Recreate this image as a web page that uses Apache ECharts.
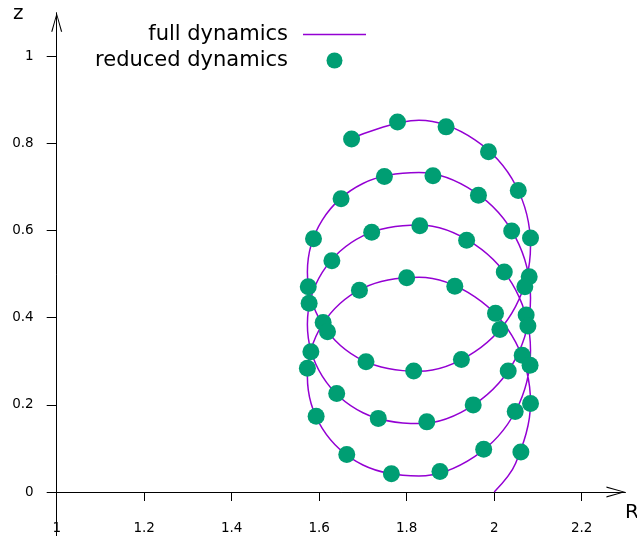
<!DOCTYPE html>
<html>
<head>
<meta charset="utf-8">
<script src="https://cdn.jsdelivr.net/npm/echarts@6/dist/echarts.min.js"></script>
<style>
html,body{margin:0;padding:0;background:#fff;}
#chart{width:637px;height:538px;}
</style>
</head>
<body>
<div id="chart"></div>
<script>
// Full dynamics trajectory (R, z)
const fullR = [1.674, 1.828, 1.956, 2.049, 2.083, 2.049, 1.956, 1.828, 1.700, 1.607, 1.573, 1.607, 1.700,
  1.828, 1.956, 2.049, 2.083, 2.049, 1.956, 1.828, 1.700, 1.607, 1.573, 1.607, 1.700,
  1.828, 1.956, 2.049, 2.083, 2.049, 1.956, 1.828, 1.700, 1.607, 1.573, 1.607, 1.700,
  1.828, 1.956, 2.049, 2.083, 2.049, 2.000];
const fullZ = [0.812, 0.853, 0.808, 0.704, 0.565, 0.426, 0.322, 0.277, 0.302, 0.386, 0.505, 0.624, 0.708,
  0.733, 0.688, 0.584, 0.445, 0.306, 0.202, 0.157, 0.182, 0.266, 0.385, 0.504, 0.588,
  0.613, 0.568, 0.464, 0.325, 0.186, 0.082, 0.037, 0.062, 0.146, 0.265, 0.384, 0.468,
  0.493, 0.448, 0.344, 0.205, 0.066, 0.000];

// Reduced dynamics points (R, z)
const redR = [1.674, 1.779, 1.890, 1.987, 2.055, 2.083, 2.040, 1.964, 1.860, 1.749, 1.650, 1.587, 1.720,
  1.830, 1.937, 2.023, 2.080, 2.070, 1.629, 1.575, 1.577, 1.692, 1.800, 1.910, 1.609,
  1.619, 1.581, 1.573, 2.003, 2.013, 2.073, 2.077, 2.064, 2.082, 2.032, 1.707, 1.816,
  1.925, 1.640, 1.735, 1.846, 1.952, 2.048, 2.083, 1.593, 1.663, 1.765, 1.876, 1.976, 2.061];
const redZ = [0.810, 0.849, 0.838, 0.781, 0.692, 0.583, 0.599, 0.681, 0.726, 0.724, 0.673, 0.581, 0.596,
  0.611, 0.578, 0.505, 0.494, 0.471, 0.531, 0.471, 0.433, 0.463, 0.492, 0.472, 0.389,
  0.368, 0.322, 0.284, 0.410, 0.373, 0.406, 0.381, 0.314, 0.291, 0.278, 0.299, 0.278,
  0.304, 0.226, 0.169, 0.161, 0.200, 0.185, 0.203, 0.174, 0.086, 0.042, 0.047, 0.098, 0.092];

const xTicks = [1, 1.2, 1.4, 1.6, 1.8, 2, 2.2];
const yTicks = [0, 0.2, 0.4, 0.6, 0.8, 1];
const seriesNames = ['full dynamics', 'reduced dynamics'];

const FONT = 'DejaVu Sans';
const chevron = 'path://M5.5,0 L11,19 L9.8,19 L5.5,3 L1.2,19 L0,19 Z';

const chart = echarts.init(document.getElementById('chart'), null, {renderer: 'canvas'});
chart.setOption({
  animation: false,
  backgroundColor: '#fff',
  grid: {left: 56.7, right: 11.55, top: 12.7, bottom: 2.4, outerBoundsMode: 'none', containLabel: false},
  xAxis: {
    type: 'value', min: 1, max: 2.3, position: 'bottom', offset: -43.6,
    splitLine: {show: false},
    axisLine: {onZero: false, lineStyle: {color: '#000', width: 1},
      symbol: ['none', chevron], symbolSize: [11, 19], symbolOffset: [0, -9.5]},
    axisTick: {show: true, length: 9, lineStyle: {color: '#000'}, customValues: xTicks},
    axisLabel: {show: true, customValues: xTicks, margin: 29, fontSize: 13.5, fontFamily: FONT, color: '#000',
      hideOverlap: false, showMinLabel: true, showMaxLabel: true,
      formatter: v => String(+(+v).toFixed(1))}
  },
  yAxis: {
    type: 'value', min: -0.1, max: 1.1,
    splitLine: {show: false},
    axisLine: {onZero: false, lineStyle: {color: '#000', width: 1},
      symbol: ['none', chevron], symbolSize: [11, 19], symbolOffset: [0, -9.5]},
    axisTick: {show: true, length: 10, lineStyle: {color: '#000'}, customValues: yTicks},
    axisLabel: {customValues: yTicks, margin: 23, fontSize: 13.5, fontFamily: FONT, color: '#000',
      formatter: v => String(+(+v).toFixed(1))}
  },
  legend: {
    orient: 'vertical', align: 'right', right: 271, top: 24, padding: 0, itemGap: 5,
    itemWidth: 63, itemHeight: 16,
    textStyle: {fontSize: 21, fontFamily: FONT, color: '#000', padding: [0, 10, 0, 0]},
    data: [
      {name: seriesNames[0], icon: 'path://M0,0 L63,0 L63,1.5 L0,1.5 Z'},
      {name: seriesNames[1], icon: 'circle'}
    ]
  },
  graphic: [
    {type: 'text', x: 13, y: 24, style: {text: 'z', font: '20px "DejaVu Sans"', fill: '#000', verticalAlign: 'bottom'}},
    {type: 'text', x: 625, y: 523, style: {text: 'R', font: '20px "DejaVu Sans"', fill: '#000', verticalAlign: 'bottom'}}
  ],
  series: [
    {
      name: seriesNames[0], type: 'line', symbol: 'none', showSymbol: false, smooth: 0.35,
      lineStyle: {color: '#9400d3', width: 1.5}, itemStyle: {color: '#9400d3'},
      data: fullR.map((r, i) => [r, fullZ[i]]), z: 2
    },
    {
      name: seriesNames[1], type: 'scatter', symbol: 'circle', symbolSize: 17,
      itemStyle: {color: '#009e73', opacity: 1},
      data: redR.map((r, i) => [r, redZ[i]]), z: 3
    }
  ]
});
</script>
</body>
</html>
